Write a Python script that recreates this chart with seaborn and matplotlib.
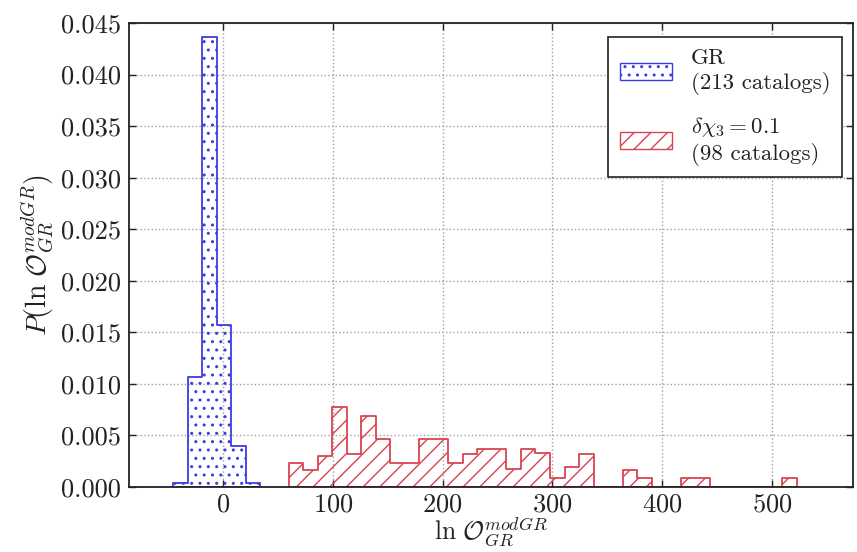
import numpy as np
import seaborn as sns
import matplotlib.pyplot as plt
from matplotlib.patches import Patch

# GR histogram (213 catalogs): bin range and densities
gr_lo, gr_hi, gr_nbins = -45.9, 33.7, 6
gr_heights = [0.00035, 0.0107, 0.0436, 0.0157, 0.0040, 0.00035]

# delta chi_3 = 0.1 histogram (98 catalogs)
mod_lo, mod_hi, mod_nbins = 59.5, 522.9, 35
mod_heights = [0.00235, 0.00162, 0.0030, 0.00777, 0.00323, 0.0069, 0.00463,
               0.00235, 0.00235, 0.00463, 0.00463, 0.00235, 0.00317, 0.00372,
               0.00372, 0.00172, 0.00372, 0.00327, 0.0009, 0.00195, 0.00317,
               0, 0, 0.00165, 0.00084, 0, 0, 0.00084, 0.00084,
               0, 0, 0, 0, 0, 0.00084]

gr_label = 'GR\n(213 catalogs)'
mod_label = '$\\delta\\chi_3 = 0.1$\n(98 catalogs)'
x_ticks = [0, 100, 200, 300, 400, 500]
y_ticks = [0.000, 0.005, 0.010, 0.015, 0.020, 0.025, 0.030, 0.035, 0.040, 0.045]

blue = '#3b3be6'
red = '#d9434f'

sns.set_style('whitegrid', {'grid.linestyle': ':', 'grid.color': '#a0a0a0',
                            'axes.edgecolor': '#222222'})
plt.rcParams['font.family'] = 'serif'
plt.rcParams['font.serif'] = ['cmr10', 'DejaVu Serif']
plt.rcParams['mathtext.fontset'] = 'cm'
plt.rcParams['axes.unicode_minus'] = False
plt.rcParams['axes.formatter.use_mathtext'] = True

fig = plt.figure(figsize=(8.57, 5.52), dpi=100)
ax = fig.add_axes([0.1505, 0.1178, 0.8448, 0.8405])

for lo, hi, n, h, c, hatch in [(gr_lo, gr_hi, gr_nbins, gr_heights, blue, '..'),
                               (mod_lo, mod_hi, mod_nbins, mod_heights, red, '//')]:
    edges = np.linspace(lo, hi, n + 1)
    centers = 0.5 * (edges[:-1] + edges[1:])
    sns.histplot(x=centers, weights=h, bins=n, binrange=(lo, hi), stat='count',
                 color=c, element='step', fill=True, facecolor='none',
                 edgecolor=c, hatch=hatch, linewidth=1.3, ax=ax)

ax.set_xlim(-86, 574)
ax.set_ylim(0, 0.045)
ax.set_xticks(x_ticks)
ax.set_yticks(y_ticks)
ax.set_yticklabels(['%.3f' % v for v in y_ticks])
ax.tick_params(direction='in', length=5, width=1, colors='#222222',
               labelsize=19, top=True, right=True, bottom=True, left=True, pad=6)
ax.tick_params(axis='x', pad=4)
for s in ax.spines.values():
    s.set_linewidth(1.3)
ax.grid(True, linestyle=':', color='#a0a0a0', linewidth=1)

ax.set_xlabel('$\\ln\\,\\mathcal{O}_{GR}^{modGR}$', fontsize=18.5, color='#222222', labelpad=0)
ax.set_ylabel('$P(\\ln\\,\\mathcal{O}_{GR}^{modGR})$', fontsize=20, color='#222222', labelpad=4)

handles = [Patch(facecolor='none', edgecolor=blue, hatch='..', label=gr_label),
           Patch(facecolor='none', edgecolor=red, hatch='//', label=mod_label)]
leg = ax.legend(handles=handles, loc='upper right', bbox_to_anchor=(0.9844, 0.9692),
                borderaxespad=0, fontsize=16.5, fancybox=False, framealpha=1,
                edgecolor='#222222', handlelength=2.3, handleheight=0.8,
                labelspacing=0.9, borderpad=0.5)
leg.get_frame().set_linewidth(1.2)
for t in leg.get_texts():
    t.set_color('#222222')

fig.savefig('out.png', dpi=100)
